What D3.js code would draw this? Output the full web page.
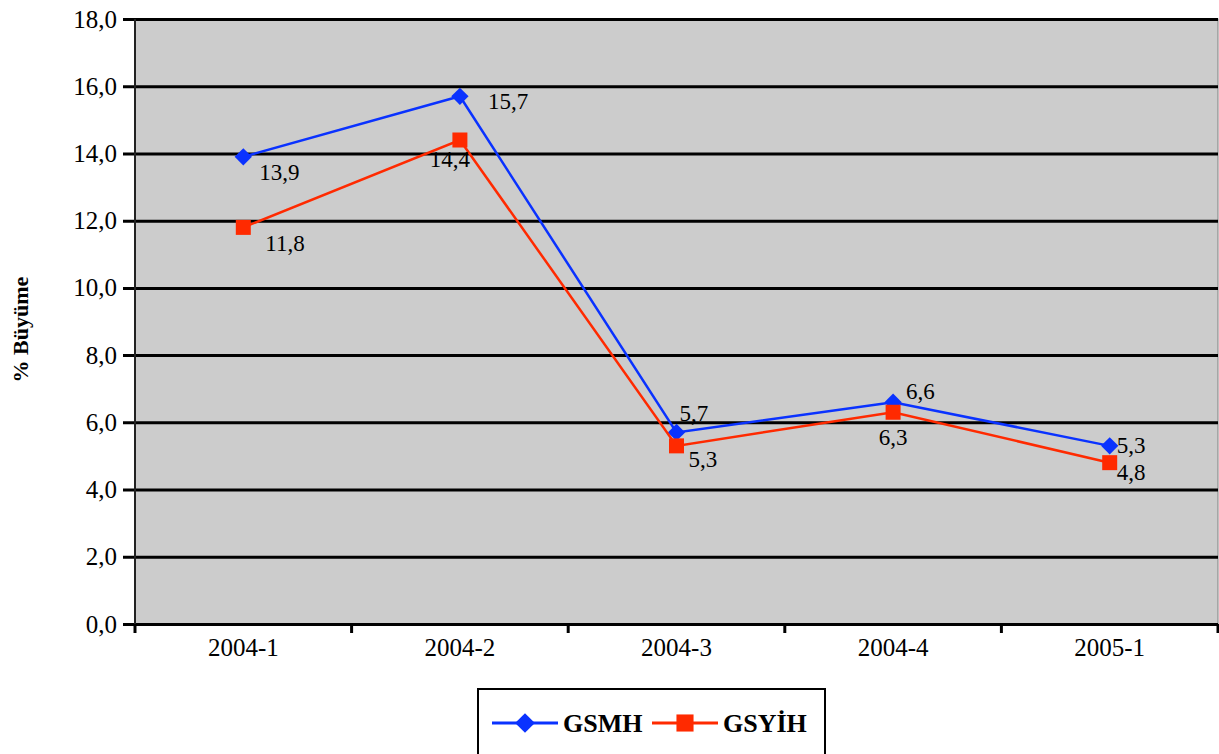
<!DOCTYPE html>
<html>
<head>
<meta charset="utf-8">
<script src="https://cdn.jsdelivr.net/npm/d3@7"></script>
<style>
  body { margin: 0; background: #fff; }
  svg { display: block; font-family: "Liberation Serif", "Times New Roman", serif; }
</style>
</head>
<body>
<svg id="chart"></svg>
<script>
const categories = ['2004-1', '2004-2', '2004-3', '2004-4', '2005-1'];
const gsmh = [13.9, 15.7, 5.7, 6.6, 5.3];
const gsyih = [11.8, 14.4, 5.3, 6.3, 4.8];
const yTicks = [0, 2, 4, 6, 8, 10, 12, 14, 16, 18];
const seriesNames = ['GSMH', 'GSYİH'];

// label offsets (px) from each point, as placed in the original chart
const gsmhLabelPos = [[16, 23, 'start'], [28, 13, 'start'], [3, -11, 'start'], [13, -3, 'start'], [7, 7, 'start']];
const gsyihLabelPos = [[22, 24, 'start'], [-10, 27, 'middle'], [12, 21, 'start'], [0, 33, 'middle'], [7, 17, 'start']];

const width = 1219;
const height = 754;
const margin = { top: 19, right: 1, bottom: 130, left: 135 };
const plotW = width - margin.left - margin.right;
const plotH = height - margin.top - margin.bottom;
const serif = '"Liberation Serif", "Times New Roman", serif';

const svg = d3.select('#chart')
  .attr('width', width)
  .attr('height', height);

const x = d3.scaleBand().domain(categories).range([0, plotW]);
const y = d3.scaleLinear().domain([0, 18]).range([plotH, 0]);
const fmt = v => d3.format('.1f')(v).replace('.', ',');

const g = svg.append('g')
  .attr('transform', `translate(${margin.left},${margin.top})`);

g.append('rect')
  .attr('width', plotW)
  .attr('height', plotH)
  .attr('fill', '#cccccc')
  .attr('stroke', '#808080')
  .attr('stroke-width', 1);

// gridlines + y axis
const yAxis = g.append('g')
  .call(d3.axisLeft(y).tickValues(yTicks).tickSize(12).tickFormat(fmt).tickPadding(6));
yAxis.attr('font-family', serif);
yAxis.select('.domain').remove();
yAxis.selectAll('.tick line')
  .attr('x1', -12)
  .attr('x2', plotW)
  .attr('stroke', '#000')
  .attr('stroke-width', 3);
yAxis.selectAll('text')
  .attr('font-size', 25)
  .attr('fill', '#000');

g.append('line')
  .attr('x1', 0).attr('x2', 0)
  .attr('y1', 0).attr('y2', plotH)
  .attr('stroke', '#222')
  .attr('stroke-width', 2);

// x axis with ticks at band edges
const xAxis = g.append('g')
  .attr('transform', `translate(0,${plotH})`)
  .call(d3.axisBottom(x).tickSize(0).tickPadding(14));
xAxis.attr('font-family', serif);
xAxis.select('.domain').remove();
xAxis.selectAll('text')
  .attr('font-size', 25)
  .attr('fill', '#000');

const edges = categories.map(c => x(c)).concat([plotW]);
g.selectAll('.xtick')
  .data(edges)
  .enter().append('line')
  .attr('x1', d => d).attr('x2', d => d)
  .attr('y1', plotH).attr('y2', plotH + 9)
  .attr('stroke', '#000')
  .attr('stroke-width', 3);

const cx = i => x(categories[i]) + x.bandwidth() / 2;
const line = d3.line().x((d, i) => cx(i)).y(d => y(d));

const series = [
  { name: seriesNames[0], values: gsmh, color: '#0a32ff', rot: 45, msize: 150, labels: gsmhLabelPos },
  { name: seriesNames[1], values: gsyih, color: '#ff2a00', rot: 0, msize: 225, labels: gsyihLabelPos }
];

series.forEach(s => {
  g.append('path')
    .datum(s.values)
    .attr('fill', 'none')
    .attr('stroke', s.color)
    .attr('stroke-width', 2.5)
    .attr('d', line);

  g.selectAll(null)
    .data(s.values)
    .enter().append('path')
    .attr('transform', (d, i) => `translate(${cx(i)},${y(d)}) rotate(${s.rot})`)
    .attr('d', d3.symbol().type(d3.symbolSquare).size(s.msize))
    .attr('fill', s.color);

  g.selectAll(null)
    .data(s.values)
    .enter().append('text')
    .attr('x', (d, i) => cx(i) + s.labels[i][0])
    .attr('y', (d, i) => y(d) + s.labels[i][1])
    .attr('text-anchor', (d, i) => s.labels[i][2])
    .attr('font-size', 23)
    .attr('fill', '#000')
    .text(d => fmt(d));
});

// y title
svg.append('text')
  .attr('transform', `translate(28,${margin.top + plotH / 2 + 8}) rotate(-90)`)
  .attr('text-anchor', 'middle')
  .attr('font-size', 22)
  .attr('font-weight', 'bold')
  .text('% Büyüme');

// legend
const lg = svg.append('g').attr('transform', 'translate(478,689)');
lg.append('rect')
  .attr('width', 347)
  .attr('height', 80)
  .attr('fill', '#fff')
  .attr('stroke', '#000')
  .attr('stroke-width', 2);

const legendX = [14, 174];
series.forEach((s, i) => {
  const item = lg.append('g').attr('transform', `translate(${legendX[i]},34)`);
  item.append('line')
    .attr('x1', 0).attr('x2', 66)
    .attr('stroke', s.color)
    .attr('stroke-width', 3);
  item.append('path')
    .attr('transform', `translate(33,0) rotate(${s.rot})`)
    .attr('d', d3.symbol().type(d3.symbolSquare).size(s.msize * 1.3))
    .attr('fill', s.color);
  item.append('text')
    .attr('x', 71)
    .attr('y', 9)
    .attr('font-size', 26)
    .attr('font-weight', 'bold')
    .text(s.name);
});
</script>
</body>
</html>
